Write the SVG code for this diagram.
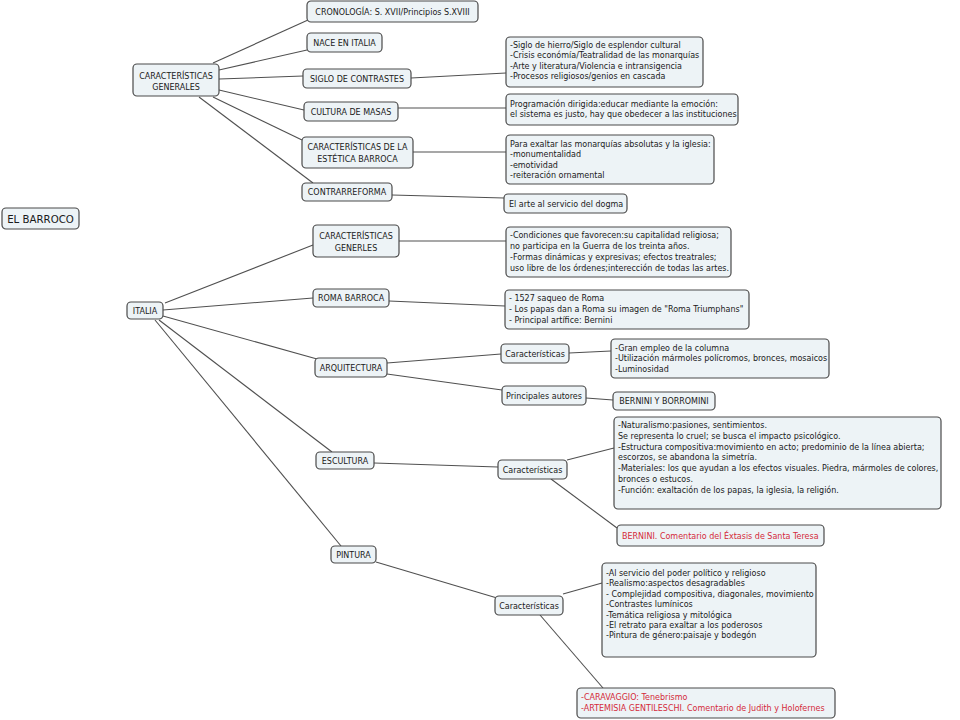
<svg xmlns="http://www.w3.org/2000/svg" width="960" height="720" viewBox="0 0 960 720">
<style>
.bg{fill:#ffffff}
.n rect{fill:#edf3f6;stroke:#4a4a4a;stroke-width:1.2}
.n text{font-family:"DejaVu Sans","Liberation Sans",sans-serif;font-size:8px;fill:#1a1a1a}
.n text.c{text-anchor:middle}
.n text.red{fill:#d42a3a}
.n text.big{font-size:10.2px}
#connectors line{stroke:#505050;stroke-width:1.1;fill:none}
</style>
<rect class="bg" x="0" y="0" width="960" height="720"/>
<g id="connectors">
<line x1="213" y1="63" x2="308" y2="20"/>
<line x1="219" y1="70" x2="307" y2="50"/>
<line x1="219" y1="79" x2="303" y2="76"/>
<line x1="219" y1="90" x2="304" y2="110"/>
<line x1="213" y1="97" x2="302" y2="140"/>
<line x1="199" y1="97" x2="313" y2="183"/>
<line x1="411" y1="78" x2="506" y2="73"/>
<line x1="398" y1="108" x2="506" y2="108"/>
<line x1="413" y1="152" x2="506" y2="152"/>
<line x1="392" y1="195" x2="504" y2="198"/>
<line x1="165" y1="303" x2="313" y2="245"/>
<line x1="399" y1="241" x2="506" y2="241"/>
<line x1="163" y1="310" x2="313" y2="298"/>
<line x1="389" y1="301" x2="505" y2="306"/>
<line x1="163" y1="316" x2="317" y2="359"/>
<line x1="387" y1="363" x2="501" y2="354"/>
<line x1="387" y1="374" x2="502" y2="390"/>
<line x1="569" y1="353" x2="611" y2="351"/>
<line x1="586" y1="398" x2="613" y2="400"/>
<line x1="159" y1="320" x2="332" y2="452"/>
<line x1="374" y1="463" x2="498" y2="467"/>
<line x1="567" y1="460" x2="614" y2="448"/>
<line x1="551" y1="479" x2="617" y2="528"/>
<line x1="155" y1="320" x2="341" y2="546"/>
<line x1="376" y1="562" x2="497" y2="598"/>
<line x1="563" y1="594" x2="602" y2="583"/>
<line x1="540" y1="615" x2="603" y2="688"/>
</g>

<g id="el-barroco" class="n"><rect x="2" y="208" width="77" height="21" rx="4"/><text class="c big" x="40.5" y="222.5">EL BARROCO</text></g>

<g id="carac-generales" class="n"><rect x="133" y="64" width="86" height="32" rx="4"/><text class="c" x="176" y="79">CARACTERÍSTICAS</text><text class="c" x="176" y="90">GENERALES</text></g>
<g id="cronologia" class="n"><rect x="307" y="1" width="171" height="21" rx="4"/><text class="c" x="392.5" y="14.5">CRONOLOGÍA: S. XVII/Principios S.XVIII</text></g>
<g id="nace" class="n"><rect x="307" y="33" width="75" height="19" rx="4"/><text class="c" x="344.5" y="45.5">NACE EN ITALIA</text></g>
<g id="siglo" class="n"><rect x="303" y="69" width="108" height="19" rx="4"/><text class="c" x="357" y="81.5">SIGLO DE CONTRASTES</text></g>
<g id="siglo-d" class="n"><rect x="506" y="37" width="197" height="50" rx="4"/><text x="510" y="48">-Siglo de hierro/Siglo de esplendor cultural<tspan x="510" dy="10.3">-Crisis económía/Teatralidad de las monarquías</tspan><tspan x="510" dy="10.3">-Arte y literatura/Violencia e intransigencia</tspan><tspan x="510" dy="10.3">-Procesos religiosos/genios en cascada</tspan></text></g>
<g id="cultura" class="n"><rect x="304" y="102" width="94" height="19" rx="4"/><text class="c" x="351" y="114.5">CULTURA DE MASAS</text></g>
<g id="cultura-d" class="n"><rect x="506" y="94" width="232" height="31" rx="4"/><text x="510" y="106.5">Programación dirigida:educar mediante la emoción:<tspan x="510" dy="10.8">el sistema es justo, hay que obedecer a las instituciones</tspan></text></g>
<g id="estetica" class="n"><rect x="302" y="137" width="111" height="31" rx="4"/><text class="c" x="357.5" y="150">CARACTERÍSTICAS DE LA</text><text class="c" x="357.5" y="161.5">ESTÉTICA BARROCA</text></g>
<g id="estetica-d" class="n"><rect x="506" y="135" width="208" height="49" rx="4"/><text x="510" y="147">Para exaltar las monarquías absolutas y la iglesia:<tspan x="510" dy="10.3">-monumentalidad</tspan><tspan x="510" dy="10.3">-emotividad</tspan><tspan x="510" dy="10.3">-reiteración ornamental</tspan></text></g>
<g id="contrarreforma" class="n"><rect x="302" y="183" width="90" height="18" rx="4"/><text class="c" x="347" y="195">CONTRARREFORMA</text></g>
<g id="contrarreforma-d" class="n"><rect x="504" y="194" width="123" height="19" rx="4"/><text x="509" y="206.5">El arte al servicio del dogma</text></g>

<g id="italia" class="n"><rect x="127" y="302" width="36" height="17" rx="4"/><text class="c" x="145" y="313.5">ITALIA</text></g>
<g id="carac-generles" class="n"><rect x="313" y="225" width="86" height="32" rx="4"/><text class="c" x="356" y="239">CARACTERÍSTICAS</text><text class="c" x="356" y="251">GENERLES</text></g>
<g id="generles-d" class="n"><rect x="506" y="227" width="225" height="50" rx="4"/><text x="510" y="238">-Condiciones que favorecen:su capitalidad religiosa;<tspan x="510" dy="10.9">no participa en la Guerra de los treinta años.</tspan><tspan x="510" dy="10.9">-Formas dinámicas y expresivas; efectos treatrales;</tspan><tspan x="510" dy="10.9">uso libre de los órdenes;interección de todas las artes.</tspan></text></g>
<g id="roma" class="n"><rect x="313" y="289" width="76" height="18" rx="4"/><text class="c" x="351" y="301">ROMA BARROCA</text></g>
<g id="roma-d" class="n"><rect x="505" y="290" width="244" height="39" rx="4"/><text x="509" y="301">- 1527 saqueo de Roma<tspan x="509" dy="10.8">- Los papas dan a Roma su imagen de "Roma Triumphans"</tspan><tspan x="509" dy="10.8">- Principal artífice: Bernini</tspan></text></g>
<g id="arquitectura" class="n"><rect x="315" y="358" width="72" height="19" rx="4"/><text class="c" x="351" y="370.5">ARQUITECTURA</text></g>
<g id="arq-carac" class="n"><rect x="501" y="344" width="68" height="19" rx="4"/><text class="c" x="535" y="356.5">Características</text></g>
<g id="arq-carac-d" class="n"><rect x="611" y="339" width="218" height="39" rx="4"/><text x="615" y="350.5">-Gran empleo de la columna<tspan x="615" dy="10.5">-Utilización mármoles polícromos, bronces, mosaicos</tspan><tspan x="615" dy="10.5">-Luminosidad</tspan></text></g>
<g id="arq-autores" class="n"><rect x="502" y="386" width="84" height="19" rx="4"/><text class="c" x="544" y="398.5">Principales autores</text></g>
<g id="arq-autores-d" class="n"><rect x="613" y="392" width="102" height="18" rx="4"/><text class="c" x="664" y="404">BERNINI Y BORROMINI</text></g>
<g id="escultura" class="n"><rect x="316" y="452" width="58" height="17" rx="4"/><text class="c" x="345" y="463.5">ESCULTURA</text></g>
<g id="esc-carac" class="n"><rect x="498" y="460" width="69" height="19" rx="4"/><text class="c" x="532.5" y="472.5">Características</text></g>
<g id="esc-carac-d" class="n"><rect x="614" y="417" width="327" height="92" rx="4"/><text x="618" y="428">-Naturalismo:pasiones, sentimientos.<tspan x="618" dy="10.8">Se representa lo cruel; se busca el impacto psicológico.</tspan><tspan x="618" dy="10.8">-Estructura compositiva:movimiento en acto; predominio de la línea abierta;</tspan><tspan x="618" dy="10.8">escorzos, se abandona la simetría.</tspan><tspan x="618" dy="10.8">-Materiales: los que ayudan a los efectos visuales. Piedra, mármoles de colores,</tspan><tspan x="618" dy="10.8">bronces o estucos.</tspan><tspan x="618" dy="10.8">-Función: exaltación de los papas, la iglesia, la religión.</tspan></text></g>
<g id="esc-bernini" class="n"><rect x="617" y="525" width="207" height="21" rx="4"/><text class="red" x="622" y="538.5">BERNINI. Comentario del Éxtasis de Santa Teresa</text></g>
<g id="pintura" class="n"><rect x="331" y="546" width="45" height="17" rx="4"/><text class="c" x="353.5" y="557.5">PINTURA</text></g>
<g id="pin-carac" class="n"><rect x="495" y="596" width="68" height="19" rx="4"/><text class="c" x="529" y="608.5">Características</text></g>
<g id="pin-carac-d" class="n"><rect x="602" y="563" width="214" height="94" rx="4"/><text x="606" y="576">-Al servicio del poder político y religioso<tspan x="606" dy="10.4">-Realismo:aspectos desagradables</tspan><tspan x="606" dy="10.4">- Complejidad compositiva, diagonales, movimiento</tspan><tspan x="606" dy="10.4">-Contrastes lumínicos</tspan><tspan x="606" dy="10.4">-Temática religiosa y mitológica</tspan><tspan x="606" dy="10.4">-El retrato para exaltar a los poderosos</tspan><tspan x="606" dy="10.4">-Pintura de género:paisaje y bodegón</tspan></text></g>
<g id="pin-autores" class="n"><rect x="577" y="688" width="258" height="30" rx="4"/><text class="red" x="581" y="700">-CARAVAGGIO: Tenebrismo<tspan x="581" dy="11.2">-ARTEMISIA GENTILESCHI. Comentario de Judith y Holofernes</tspan></text></g>
</svg>
